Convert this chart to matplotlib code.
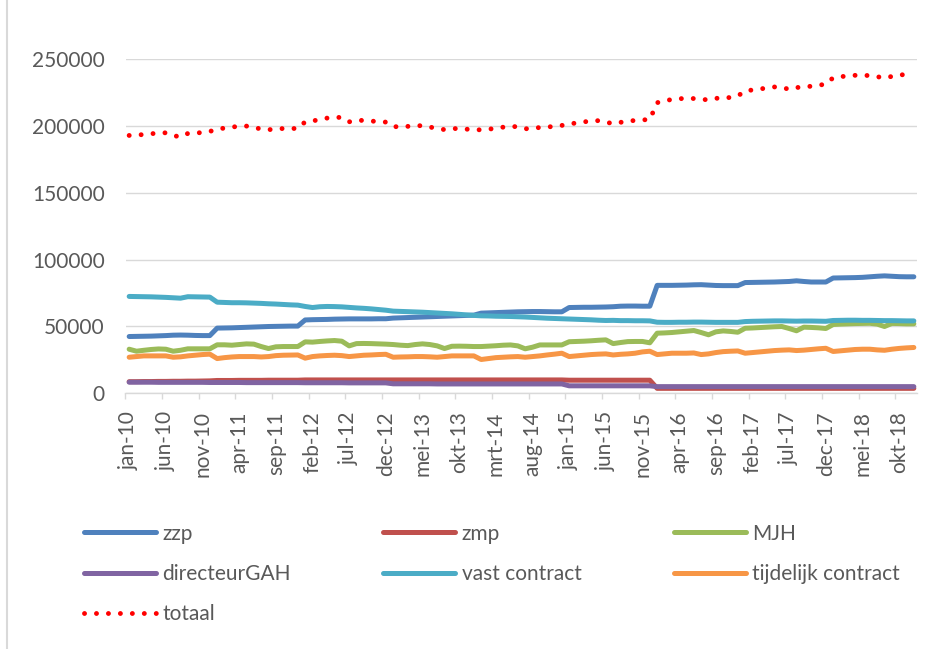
import numpy as np
import matplotlib.pyplot as plt
from matplotlib.lines import Line2D

plt.rcParams['font.family'] = ['Lato', 'DejaVu Sans']

# maandcijfers jan-10 t/m dec-18 (108 maanden)
tick_labels = ['jan-10', 'jun-10', 'nov-10', 'apr-11', 'sep-11', 'feb-12', 'jul-12',
               'dec-12', 'mei-13', 'okt-13', 'mrt-14', 'aug-14', 'jan-15', 'jun-15',
               'nov-15', 'apr-16', 'sep-16', 'feb-17', 'jul-17', 'dec-17', 'mei-18', 'okt-18']

zzp = [42500, 42600, 42700, 42800, 43000, 43200, 43500, 43600, 43500, 43300, 43200, 43200,
       48800, 48900, 49000, 49200, 49400, 49600, 49800, 50000, 50100, 50200, 50300, 50300,
       54900, 55100, 55200, 55300, 55500, 55600, 55700, 55700, 55700, 55700, 55800, 55800,
       56300, 56500, 56700, 56900, 57100, 57300, 57500, 57700, 57900, 58100, 58300, 58500,
       60000, 60200, 60400, 60600, 60800, 61000, 61100, 61200, 61200, 61100, 61000, 61000,
       64200, 64300, 64400, 64400, 64500, 64600, 64800, 65200, 65300, 65300, 65200, 65200,
       80800, 80800, 80800, 80900, 81000, 81200, 81300, 81000, 80700, 80600, 80600, 80600,
       82900, 83000, 83100, 83200, 83300, 83500, 83700, 84200, 83700, 83300, 83300, 83300,
       86300, 86400, 86500, 86600, 86800, 87200, 87600, 87900, 87600, 87300, 87200, 87200]

zmp = [8700, 8700, 8800, 8800, 8900, 8900, 9000, 9000, 9100, 9100, 9200, 9300,
       9600, 9600, 9600, 9700, 9700, 9700, 9700, 9800, 9800, 9800, 9800, 9800,
       10000, 10000, 10000, 10000, 10000, 10000, 10000, 10000, 10000, 10000, 10000, 10000,
       10000, 10000, 10000, 10000, 10000, 10000, 10000, 10000, 10000, 10000, 10000, 10000,
       10000, 10000, 10000, 10000, 10000, 10000, 10000, 10000, 10000, 10000, 10000, 10000,
       9800, 9800, 9800, 9800, 9800, 9800, 9800, 9800, 9800, 9800, 9800, 9800,
       3700, 3700, 3700, 3700, 3700, 3700, 3700, 3700, 3700, 3700, 3700, 3700,
       3700, 3700, 3700, 3700, 3700, 3700, 3700, 3700, 3700, 3700, 3700, 3700,
       3700, 3700, 3700, 3700, 3700, 3700, 3700, 3700, 3700, 3700, 3700, 3700]

mjh = [33000, 31500, 32200, 32800, 33200, 33000, 31500, 32200, 33300, 33300, 33300, 33300,
       36300, 36300, 36000, 36500, 37000, 36800, 35000, 33500, 34800, 35000, 35000, 35000,
       38500, 38300, 38800, 39200, 39500, 39000, 35500, 37200, 37300, 37200, 37000, 36800,
       36500, 36000, 35700, 36500, 37000, 36500, 35500, 33500, 35200, 35300, 35200, 35000,
       35000, 35300, 35600, 36000, 36200, 35500, 33300, 34500, 36200, 36200, 36200, 36200,
       38600, 38800, 39000, 39300, 39700, 40000, 37200, 38000, 38700, 38800, 38800, 37800,
       45000, 45200, 45500, 46000, 46500, 47000, 45500, 43800, 46000, 46700, 46300, 45700,
       48700, 48900, 49200, 49500, 49800, 50000, 48500, 46800, 49500, 49300, 49000, 48500,
       51500, 51800, 52000, 52200, 52300, 52400, 51800, 50000, 52300, 52200, 52000, 52000]

directeur_gah = [8300, 8300, 8300, 8300, 8200, 8200, 8200, 8200, 8200, 8200, 8200, 8100,
                 8100, 8100, 8100, 8100, 8000, 8000, 8000, 8000, 8000, 8000, 8000, 8000,
                 7900, 7900, 7900, 7900, 7900, 7900, 7800, 7800, 7800, 7800, 7800, 7800,
                 7100, 7100, 7100, 7100, 7100, 7100, 7000, 7000, 7000, 7000, 7000, 7000,
                 7000, 7000, 7000, 7000, 7000, 7000, 7000, 7000, 7000, 7000, 7000, 7000,
                 5600, 5600, 5600, 5600, 5600, 5600, 5600, 5600, 5600, 5600, 5600, 5600,
                 5000, 5000, 5000, 5000, 5000, 5000, 5000, 5000, 5000, 5000, 5000, 5000,
                 5000, 5000, 5000, 5000, 5000, 5000, 5000, 5000, 5000, 5000, 5000, 5000,
                 5000, 5000, 5000, 5000, 5000, 5000, 5000, 5000, 5000, 5000, 5000, 5000]

vast = [72500, 72400, 72300, 72200, 72000, 71800, 71500, 71200, 72300, 72200, 72100, 72000,
        68200, 68000, 67800, 67800, 67700, 67500, 67300, 67000, 66800, 66500, 66200, 66000,
        65000, 64200, 64800, 65000, 64900, 64700, 64300, 63900, 63600, 63200, 62700, 62200,
        61500, 61300, 61100, 60900, 60700, 60400, 60100, 59800, 59500, 59100, 58700, 58300,
        58000, 57900, 57700, 57600, 57500, 57300, 57100, 56800, 56500, 56200, 56000, 55800,
        55600, 55400, 55200, 55000, 54700, 54500, 54600, 54400, 54400, 54300, 54300, 54200,
        53200, 53100, 53100, 53200, 53200, 53300, 53300, 53200, 53100, 53100, 53100, 53100,
        53700, 53900, 54000, 54100, 54200, 54200, 54100, 54000, 54100, 54100, 54000, 53900,
        54500, 54600, 54700, 54700, 54600, 54600, 54500, 54400, 54400, 54300, 54200, 54200]

tijdelijk = [27000, 27500, 28000, 28000, 28000, 28000, 27000, 27300, 28000, 28500, 29000, 29300,
             26000, 26700, 27200, 27500, 27500, 27500, 27200, 27500, 28200, 28500, 28600, 28700,
             26300, 27500, 28000, 28300, 28500, 28200, 27500, 28000, 28500, 28700, 29000, 29200,
             27000, 27200, 27300, 27500, 27500, 27300, 27000, 27500, 28000, 28000, 28000, 28000,
             25300, 26000, 26700, 27000, 27300, 27500, 27000, 27500, 28000, 28700, 29300, 30000,
             27500, 28000, 28500, 29000, 29300, 29500, 28700, 29200, 29500, 30000, 31000, 31500,
             29000, 29500, 30000, 30000, 30000, 30200, 29000, 29500, 30500, 31200, 31500, 31700,
             30000, 30500, 31000, 31500, 32000, 32300, 32500, 32000, 32300, 32800, 33300, 33700,
             31300, 31800, 32300, 32800, 33000, 33000, 32500, 32200, 33000, 33600, 34000, 34300]

totaal = [193000, 193300, 193700, 194300, 194700, 195000, 193000, 191800, 194500, 194800, 195200, 196000,
          197700, 198500, 199300, 199800, 200000, 199000, 197800, 197300, 197800, 198200, 198200, 198200,
          203200, 203800, 205000, 206000, 206500, 206500, 203200, 204200, 204300, 203800, 203300, 203000,
          199600, 199500, 199800, 200300, 200300, 199200, 198500, 197300, 198000, 198300, 197700, 197300,
          197200, 197700, 198300, 199200, 199800, 199500, 198000, 198200, 199000, 199400, 199700, 200500,
          201700, 202300, 203200, 203700, 204100, 203000, 201800, 202800, 203800, 204200, 204600, 205000,
          217500, 219200, 219800, 220400, 221000, 220600, 220000, 219700, 220700, 221500, 221300, 222500,
          226500, 227000, 227800, 228500, 229300, 229000, 227500, 228800, 229500, 229800, 230500, 231500,
          236200, 237000, 237500, 238000, 238200, 237700, 237000, 236000, 237200, 238500, 238300, 238000]

names = ['zzp', 'zmp', 'MJH', 'directeurGAH', 'vast contract', 'tijdelijk contract']
series = [zzp, zmp, mjh, directeur_gah, vast, tijdelijk]
colors = ['#4F81BD', '#C0504D', '#9BBB59', '#8064A2', '#4BACC6', '#F79646']

W, H = 933, 649
fig = plt.figure(figsize=(W / 100, H / 100), dpi=100)
ax = fig.add_axes([125.5 / W, 1 - 393.3 / H, 792 / W, 334 / H])

x = np.arange(len(zzp))
handles = {}
for name, vals, col in zip(names, series, colors):
    handles[name], = ax.plot(x, vals, color=col, lw=3.6, label=name,
                             solid_capstyle='round', solid_joinstyle='round')
handles['totaal'], = ax.plot(x, totaal, color='#FF0000', lw=3.5, label='totaal',
                             linestyle=(0, (0.01, 2.45)), dash_capstyle='round')

ax.set_xlim(-0.5, len(zzp) - 0.5)
ax.set_ylim(0, 250000)
ax.set_yticks(np.arange(0, 250001, 50000))
ax.yaxis.grid(True, color='#D9D9D9', lw=1)
ax.set_axisbelow(True)
for s in ['top', 'right', 'left']:
    ax.spines[s].set_visible(False)
ax.spines['bottom'].set_color('#D9D9D9')
ax.spines['bottom'].set_linewidth(1)

ax.set_xticks(np.arange(-0.5, 105, 5))
ax.set_xticklabels([])
ax.set_xticks(np.arange(0, len(zzp), 5), minor=True)
ax.set_xticklabels(tick_labels, minor=True, rotation=90)
ax.tick_params(axis='x', which='major', length=4, color='#D9D9D9', width=1)
ax.tick_params(axis='x', which='minor', length=0, pad=13, labelsize=15, labelcolor='#595959')
ax.tick_params(axis='y', length=0, pad=15, labelsize=15, labelcolor='#595959')

order = ['zzp', 'directeurGAH', 'totaal', 'zmp', 'vast contract', 'MJH', 'tijdelijk contract']
leg = fig.legend([handles[n] for n in order], order, loc='upper left',
                 bbox_to_anchor=(84 / W, 1 - 523.5 / H), ncol=3, frameon=False,
                 fontsize=15, handlelength=3.46, handletextpad=0.3,
                 columnspacing=4.44, labelspacing=0.98, borderpad=0, borderaxespad=0)
for t in leg.get_texts():
    t.set_color('#595959')

fig.add_artist(Line2D([7 / W, 7 / W], [0, 1], color='#D9D9D9', lw=1.5,
                      transform=fig.transFigure))

fig.savefig('out.png', dpi=100)
